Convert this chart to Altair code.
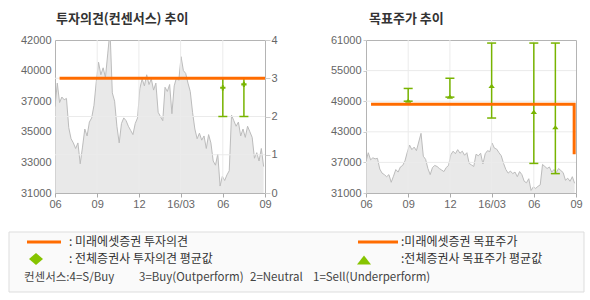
import altair as alt
import pandas as pd

# ---------------- data ----------------
# share price, sampled every 5 days from 2015-06-01 (read off the chart)
price_start = "2015-06-01"
price_values = [
    37200, 38900, 37500, 37900, 37700, 37800, 35700, 34900, 34600, 34200,
    34600, 33100, 34300, 35600, 35100, 36100, 36400, 37300, 39000, 40400,
    39500, 40000, 39300, 41000, 42700, 38200, 37600, 35800, 34600, 36000,
    36400, 36200, 35800, 35500, 35200, 36000, 36400, 38500, 39200, 38700,
    39500, 38800, 39200, 38400, 38900, 36800, 36500, 36200, 38600, 38300,
    38800, 36700, 38700, 39300, 39100, 40800, 39800, 39600, 38900, 38300,
    36800, 35600, 34900, 35300, 34800, 35100, 34200, 35200, 34600, 33300,
    33000, 33800, 31500, 32200, 31900, 32300, 32600, 36600, 36200, 35800,
    36100, 35100, 35600, 35000, 35800, 35400, 35000, 33500, 33900, 33300,
    34200, 32900,
]

# Mirae Asset rating (consensus scale) and target price
rating_dates = ["2015-06-11", "2016-09-01"]
rating_values = [3, 3]
target_dates = ["2015-06-12", "2016-08-28", "2016-08-28"]
target_values = [48400, 48400, 38600]

# all brokers: rating range / mean
cons_rating_dates = ["2016-06-01", "2016-07-17"]
cons_rating_lo = [2, 2]
cons_rating_hi = [3, 3]
cons_rating_mean = [2.75, 2.84]

# all brokers: target price range / mean
cons_target_dates = ["2015-09-01", "2015-12-01", "2016-03-01", "2016-06-01", "2016-07-18"]
cons_target_lo = [49000, 49800, 45700, 36800, 34800]
cons_target_hi = [51500, 53500, 60400, 60400, 60400]
cons_target_mean = [49100, 49900, 52000, 46900, 43900]

x_domain = ["2015-06-01", "2016-09-01"]
xtick_dates = ["2015-06-01", "2015-09-01", "2015-12-01", "2016-03-01", "2016-06-01", "2016-09-01"]
xtick_labels = ["06", "09", "12", "16/03", "06", "09"]

left_tick_values = [31000, 33200, 35400, 37600, 39800, 42000]
left_tick_labels = ["31000", "33000", "35000", "37000", "40000", "42000"]
rating_ticks = [0, 1, 2, 3, 4]
rating_grid = [1, 2, 3]
target_ticks = [31000, 37000, 43000, 49000, 55000, 61000]
target_grid = [37000, 43000, 49000, 55000]

title_left = "투자의견(컨센서스) 추이"
title_right = "목표주가 추이"
legend_texts = [": 미래에셋증권 투자의견", ": 전체증권사 투자의견 평균값",
                ":미래에셋증권 목표주가", ":전체증권사 목표주가 평균값"]
consensus_parts = ["컨센서스:4=S/Buy", "3=Buy(Outperform)", "2=Neutral", "1=Sell(Underperform)"]

# ---------------- style ----------------
GREEN = "#78b400"
LEG_GREEN = "#86c400"
ORANGE = "#ff6c00"
AREA_FILL = "#dfdfdf"
AREA_LINE = "#bcbcbc"
GRID = "#ebebeb"
BORDER = "#b4b4b4"
LABEL = "#666666"
FONT = "Liberation Sans"
KFONT = "Noto Sans CJK KR"

# ---------------- tables ----------------
price_dates = [d.strftime("%Y-%m-%d") for d in
               pd.date_range(price_start, periods=len(price_values), freq="5D")]
price_df = pd.DataFrame({"date": price_dates, "price": price_values})
rating_df = pd.DataFrame({"date": rating_dates, "v": rating_values})
target_df = pd.DataFrame({"date": target_dates, "v": target_values,
                          "o": list(range(len(target_values)))})
crat_df = pd.DataFrame({"date": cons_rating_dates, "lo": cons_rating_lo,
                        "hi": cons_rating_hi, "mean": cons_rating_mean})
ctar_df = pd.DataFrame({"date": cons_target_dates, "lo": cons_target_lo,
                        "hi": cons_target_hi, "mean": cons_target_mean})
vgrid_df = pd.DataFrame({"date": xtick_dates[1:-1]})


def dt(s):
    y, m, d = map(int, s.split("-"))
    return alt.DateTime(year=y, month=m, date=d, utc=True)


def chain(expr_key, keys, labels, default="''"):
    out = default
    for k, l in reversed(list(zip(keys, labels))):
        out = f"({expr_key}=={k}?'{l}':{out})"
    return out


x_label_expr = chain("utcFormat(datum.value,'%Y-%m-%d')",
                     [f"'{d}'" for d in xtick_dates], xtick_labels)
left_label_expr = chain("datum.value", left_tick_values, left_tick_labels)

x_axis = alt.Axis(values=[dt(s) for s in xtick_dates], labelExpr=x_label_expr,
                  title=None, grid=False, domain=False, tickSize=4, tickColor="#aaaaaa",
                  labelColor=LABEL, labelFont=FONT, labelFontSize=11, labelPadding=1,
                  labelFlush=False, labelOverlap=False, minExtent=18, maxExtent=18)


def xenc():
    return alt.X("date:T", axis=x_axis,
                 scale=alt.Scale(type="utc", domain=[dt(x_domain[0]), dt(x_domain[1])]))


# ---------------- left panel ----------------
left_axis = alt.Axis(values=left_tick_values, labelExpr=left_label_expr, title=None,
                     grid=False, domain=False, ticks=False, labelColor=LABEL,
                     labelFont=FONT, labelFontSize=11, labelPadding=4,
                     minExtent=46, maxExtent=46)
rating_axis = alt.Axis(values=rating_ticks, format="d", orient="right", title=None,
                       grid=False, domain=False, tickSize=5, tickColor="#cccccc",
                       labelColor=LABEL, labelFont=FONT, labelFontSize=11,
                       labelPadding=1, minExtent=20, maxExtent=20)
rscale = alt.Scale(domain=[0, 4], nice=False, zero=False)


def yr(f):
    return alt.Y(f"{f}:Q", scale=rscale, axis=rating_axis)


area_left = alt.Chart(price_df).mark_area(
    color=AREA_FILL, line={"color": AREA_LINE, "strokeWidth": 1}, clip=True
).encode(
    x=xenc(),
    y=alt.Y("price:Q", scale=alt.Scale(domain=[31000, 42000], nice=False, zero=False),
            axis=left_axis),
)

rating_layers = alt.layer(
    alt.Chart(pd.DataFrame({"g": rating_grid})).mark_rule(color=GRID).encode(y=yr("g")),
    alt.Chart(vgrid_df).mark_rule(color=GRID).encode(x=xenc()),
    alt.Chart(crat_df).mark_rule(color=GREEN, strokeWidth=1.5).encode(
        x=xenc(), y=yr("lo"), y2="hi:Q"),
    alt.Chart(crat_df).mark_tick(orient="horizontal", size=9, thickness=1.5,
                                 color=GREEN, opacity=1).encode(x=xenc(), y=yr("lo")),
    alt.Chart(crat_df).mark_point(shape="cross", filled=True, size=28, color=GREEN,
                                  opacity=1).encode(x=xenc(), y=yr("mean")),
    alt.Chart(rating_df).mark_line(color=ORANGE, strokeWidth=3).encode(x=xenc(), y=yr("v")),
)

left = alt.layer(area_left, rating_layers).resolve_scale(y="independent").properties(
    width=210, height=153,
    view=alt.ViewBackground(stroke=BORDER, strokeWidth=1),
    title=alt.TitleParams(title_left, anchor="start", frame="group", font=KFONT,
                          fontSize=13, fontWeight="bold", color="#333333", dx=1, offset=8),
)

# ---------------- right panel ----------------
target_axis = alt.Axis(values=target_ticks, format="d", title=None, grid=False,
                       domain=False, tickSize=3, tickColor="#cccccc", labelColor=LABEL,
                       labelFont=FONT, labelFontSize=11, labelPadding=2,
                       minExtent=36, maxExtent=36)
tscale = alt.Scale(domain=[31000, 61000], nice=False, zero=False)


def yt(f):
    return alt.Y(f"{f}:Q", scale=tscale, axis=target_axis)


tri = "M-1,0.65L0,-0.65L1,0.65Z"

right = alt.layer(
    alt.Chart(price_df).mark_area(color=AREA_FILL, line={"color": AREA_LINE, "strokeWidth": 1},
                                  clip=True).encode(x=xenc(), y=yt("price")),
    alt.Chart(pd.DataFrame({"g": target_grid})).mark_rule(color=GRID).encode(y=yt("g")),
    alt.Chart(vgrid_df).mark_rule(color=GRID).encode(x=xenc()),
    alt.Chart(ctar_df).mark_rule(color=GREEN, strokeWidth=1.5).encode(
        x=xenc(), y=yt("lo"), y2="hi:Q"),
    alt.Chart(ctar_df).mark_tick(orient="horizontal", size=9, thickness=1.5,
                                 color=GREEN, opacity=1).encode(x=xenc(), y=yt("lo")),
    alt.Chart(ctar_df).mark_tick(orient="horizontal", size=9, thickness=1.5,
                                 color=GREEN, opacity=1).encode(x=xenc(), y=yt("hi")),
    alt.Chart(ctar_df).mark_point(shape=tri, filled=True, size=40, color=GREEN,
                                  opacity=1).encode(x=xenc(), y=yt("mean")),
    alt.Chart(target_df).mark_line(color=ORANGE, strokeWidth=3).encode(
        x=xenc(), y=yt("v"), order="o:Q"),
).properties(
    width=210, height=153,
    view=alt.ViewBackground(stroke=BORDER, strokeWidth=1),
    title=alt.TitleParams(title_right, anchor="start", frame="group", font=KFONT,
                          fontSize=13, fontWeight="bold", color="#333333", dx=3, offset=8),
)

# ---------------- legend box ----------------
# the legend's origin lines up with the left plot's origin; the box reaches
# back under the left axis (-46 px)
lb = alt.Chart(pd.DataFrame({"k": [0]}))
LX = -46


def ltext(s, x, y, color="#333333", size=12):
    return lb.mark_text(text=s, align="left", baseline="middle", font=KFONT,
                        fontSize=size, color=color).encode(x=alt.value(LX + x), y=alt.value(y))


legend = alt.layer(
    lb.mark_rect(fill="#fafafa", stroke="#dddddd", strokeWidth=1).encode(
        x=alt.value(LX), x2=alt.value(LX + 575), y=alt.value(0), y2=alt.value(60)),
    lb.mark_rule(color=ORANGE, strokeWidth=3).encode(
        x=alt.value(LX + 18), x2=alt.value(LX + 52), y=alt.value(10)),
    ltext(legend_texts[0], 60, 10),
    lb.mark_point(shape="M-1,0L0,-0.86L1,0L0,0.86Z", filled=True, size=196,
                  color=LEG_GREEN, opacity=1).encode(x=alt.value(LX + 27), y=alt.value(27)),
    ltext(legend_texts[1], 60, 27),
    lb.mark_rule(color=ORANGE, strokeWidth=3).encode(
        x=alt.value(LX + 349), x2=alt.value(LX + 389), y=alt.value(10)),
    ltext(legend_texts[2], 392, 10),
    lb.mark_point(shape=tri, filled=True, size=196, color=LEG_GREEN,
                  opacity=1).encode(x=alt.value(LX + 355), y=alt.value(28)),
    ltext(legend_texts[3], 392, 27),
    ltext(consensus_parts[0], 15, 46, "#444444", 11.5),
    ltext(consensus_parts[1], 130, 46, "#444444", 11.5),
    ltext(consensus_parts[2], 241, 46, "#444444", 11.5),
    ltext(consensus_parts[3], 304, 46, "#444444", 11.5),
).properties(width=575 + LX, height=60,
             view=alt.ViewBackground(fill=None, stroke=None))

chart = alt.vconcat(
    alt.hconcat(left, right, spacing=43),
    legend,
    spacing=19,
).properties(
    padding={"left": 8, "top": 12, "right": 0, "bottom": 0},
    background="white",
)

chart.save("out.html", embed_options={"renderer": "svg", "actions": False})
